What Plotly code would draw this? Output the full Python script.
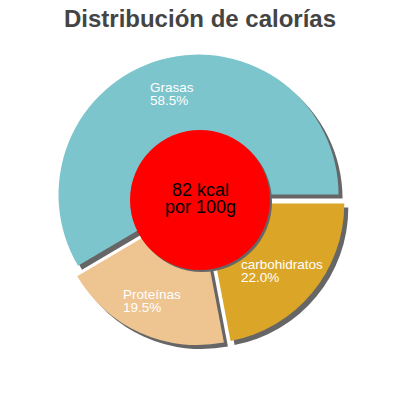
import numpy as np
import plotly.graph_objects as go

# Datos del gráfico
labels = ['Grasas', 'Proteínas', 'carbohidratos']
values = [58.5, 19.5, 22.0]
colors = ['#7cc5cd', '#eec591', '#dba627']
center_lines = ['82 kcal', 'por 100g']
title = 'Distribución de calorías'

W = H = 400
off = 8                # margen del body de la página html
cx, cy = 200 - off, 200 - off   # centro del pastel en píxeles
r = 140                # radio
pull = 0.04
half = r * (1 + pull)
shadow = 4

total = sum(values)
# la primera porción empieza a las 3 en punto y gira en sentido antihorario
rot = 90 - values[0] / total * 360


def dom(dx=0, dy=0):
    return dict(x=[(cx - half + dx) / W, (cx + half + dx) / W],
                y=[1 - (cy + half + dy) / H, 1 - (cy - half + dy) / H])


def txt(x, y, text, size, color, xanchor='center'):
    return dict(x=x / W, y=1 - y / H, xref='paper', yref='paper', text=text,
                showarrow=False, xanchor=xanchor, yanchor='middle', borderpad=0,
                font=dict(family='Liberation Sans, Arial', size=size, color=color))


fig = go.Figure()

# sombra gris
fig.add_trace(go.Pie(
    labels=labels, values=values, sort=False, direction='counterclockwise',
    rotation=rot, pull=pull, marker=dict(colors=['#666666'] * 3, line=dict(width=0)),
    textinfo='none', hoverinfo='skip', showlegend=False, domain=dom(shadow, shadow)
))

# pastel principal
fig.add_trace(go.Pie(
    labels=labels, values=values, sort=False, direction='counterclockwise',
    rotation=rot, pull=pull, marker=dict(colors=colors, line=dict(width=0)),
    textinfo='none', showlegend=False, domain=dom()
))

# etiquetas dentro de cada porción
start = 0.0
annotations = []
for lab, v in zip(labels, values):
    mid = np.radians((start + v / 2) / total * 360)
    start += v
    rr = 0.75 * r + r * pull
    px = cx + rr * np.cos(mid)
    py = cy - rr * np.sin(mid)
    left = px - len(lab) * 6.7 / 2
    annotations.append(txt(left - 2, py - 6, lab, 13.5, 'white', 'left'))
    annotations.append(txt(left - 2, py + 7, f'{v / total * 100:.1f}%', 13.5, 'white', 'left'))

# texto del círculo central
annotations.append(txt(cx, cy - 10, center_lines[0], 18, 'black'))
annotations.append(txt(cx, cy + 7, center_lines[1], 18, 'black'))

cr = 70
fig.update_layout(
    width=W, height=H,
    margin=dict(l=0, r=0, t=0, b=0),
    paper_bgcolor='white',
    title=dict(text=f'<b>{title}</b>', x=(200 - off) / W, xanchor='center',
               y=1 - 11 / H, yanchor='middle', yref='container',
               font=dict(family='Liberation Sans, Arial', size=24, color='#444444')),
    shapes=[
        dict(type='circle', xref='paper', yref='paper', layer='above',
             x0=(cx - cr + 2) / W, x1=(cx + cr + 2) / W,
             y0=1 - (cy + cr + 2) / H, y1=1 - (cy - cr + 2) / H,
             fillcolor='#666666', line=dict(width=0)),
        dict(type='circle', xref='paper', yref='paper', layer='above',
             x0=(cx - cr) / W, x1=(cx + cr) / W,
             y0=1 - (cy + cr) / H, y1=1 - (cy - cr) / H,
             fillcolor='#ff0000', line=dict(width=0)),
    ],
    annotations=annotations,
)

fig.write_html('out.html')
